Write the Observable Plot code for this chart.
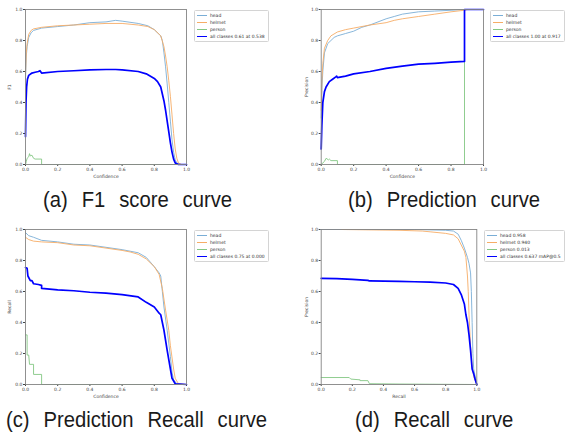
<!DOCTYPE html>
<html><head><meta charset="utf-8">
<script src="https://cdn.jsdelivr.net/npm/d3@7"></script>
<script src="https://cdn.jsdelivr.net/npm/@observablehq/plot@0.6"></script>
<style>
body{margin:0;background:#fff;}
#root{position:relative;width:568px;height:437px;overflow:hidden;background:#fff;}
.panel{position:absolute;}
.legend{position:absolute;border:0.7px solid #d4d4d4;border-radius:1.5px;background:#fff;font:4.5px "DejaVu Sans",sans-serif;color:#333;padding:1px 3px 1px 2px;}
.legend .row{display:flex;align-items:center;height:7px;white-space:nowrap;}
.legend .sw{display:inline-block;width:10px;margin-right:3px;}
.caption{position:absolute;font:22px "Liberation Sans",Arial,sans-serif;word-spacing:9px;color:#1a1a1a;line-height:22px;white-space:nowrap;transform:scaleX(0.92);transform-origin:0 0;}
</style></head>
<body><div id="root"></div>
<script>
// ---------- data ----------
const tickValues = [0, 0.2, 0.4, 0.6, 0.8, 1.0];
const classNames = ["head", "helmet", "person", "all classes"];
const classColors = ["#7aaed6", "#f6ad66", "#83c783", "#0000ff"];

// (a) F1 vs confidence
const f1Head = [[0,0.55],[0.005,0.7],[0.01,0.76],[0.02,0.82],[0.035,0.85],[0.05,0.865],[0.1,0.88],[0.2,0.89],[0.3,0.9],[0.4,0.915],[0.5,0.92],[0.56,0.93],[0.6,0.925],[0.7,0.91],[0.76,0.895],[0.8,0.87],[0.84,0.83],[0.85,0.8],[0.86,0.72],[0.87,0.63],[0.88,0.52],[0.89,0.4],[0.9,0.28],[0.91,0.16],[0.92,0.08],[0.93,0.03],[0.94,0.01],[0.96,0],[1,0]];
const f1Helmet = [[0,0.58],[0.005,0.72],[0.01,0.78],[0.02,0.84],[0.035,0.865],[0.05,0.875],[0.1,0.885],[0.2,0.895],[0.3,0.9],[0.4,0.905],[0.5,0.91],[0.6,0.91],[0.7,0.9],[0.76,0.89],[0.8,0.87],[0.84,0.83],[0.86,0.76],[0.87,0.7],[0.88,0.63],[0.89,0.54],[0.9,0.44],[0.91,0.32],[0.92,0.2],[0.93,0.1],[0.94,0.04],[0.95,0.01],[0.97,0],[1,0]];
const f1Person = [[0,0],[0.005,0.02],[0.01,0.04],[0.02,0.05],[0.025,0.07],[0.03,0.055],[0.04,0.06],[0.05,0.04],[0.06,0.035],[0.1,0.035],[0.1,0],[1,0]];
const f1All = [[0,0.18],[0.003,0.4],[0.007,0.5],[0.012,0.55],[0.02,0.575],[0.04,0.59],[0.06,0.595],[0.08,0.6],[0.09,0.605],[0.1,0.59],[0.2,0.6],[0.3,0.605],[0.4,0.61],[0.5,0.613],[0.56,0.613],[0.6,0.61],[0.7,0.6],[0.75,0.585],[0.8,0.555],[0.82,0.535],[0.84,0.5],[0.86,0.41],[0.87,0.35],[0.88,0.28],[0.89,0.21],[0.9,0.14],[0.91,0.08],[0.92,0.035],[0.93,0.01],[0.95,0],[1,0]];

// (b) precision vs confidence
const pHead = [[0,0.3],[0.005,0.5],[0.01,0.6],[0.02,0.72],[0.04,0.78],[0.06,0.8],[0.08,0.82],[0.1,0.83],[0.15,0.845],[0.2,0.86],[0.25,0.885],[0.3,0.9],[0.35,0.92],[0.4,0.94],[0.45,0.955],[0.5,0.97],[0.6,0.985],[0.7,0.99],[0.8,0.995],[0.88,1.0],[1,1]];
const pHelmet = [[0,0.35],[0.005,0.55],[0.01,0.65],[0.02,0.75],[0.04,0.8],[0.06,0.83],[0.1,0.855],[0.15,0.87],[0.2,0.88],[0.3,0.9],[0.4,0.915],[0.45,0.93],[0.5,0.94],[0.6,0.955],[0.7,0.97],[0.8,0.985],[0.88,0.995],[0.9,1],[1,1]];
const pPerson = [[0,0],[0.02,0.02],[0.03,0.04],[0.045,0.03],[0.05,0.035],[0.06,0.025],[0.1,0.025],[0.1,0],[0.883,0],[0.883,1],[1,1]];
const pAll = [[0,0.1],[0.004,0.25],[0.01,0.4],[0.02,0.47],[0.03,0.5],[0.05,0.535],[0.07,0.55],[0.09,0.565],[0.095,0.57],[0.1,0.56],[0.15,0.57],[0.2,0.585],[0.3,0.6],[0.4,0.62],[0.5,0.635],[0.6,0.648],[0.7,0.653],[0.8,0.66],[0.883,0.665],[0.883,1],[1,1]];

// (c) recall vs confidence
const rHead = [[0,0.98],[0.02,0.96],[0.05,0.95],[0.1,0.93],[0.2,0.92],[0.3,0.905],[0.4,0.9],[0.5,0.885],[0.6,0.87],[0.65,0.86],[0.7,0.85],[0.75,0.82],[0.8,0.76],[0.83,0.72],[0.84,0.7],[0.85,0.6],[0.86,0.5],[0.88,0.35],[0.9,0.18],[0.91,0.08],[0.92,0.03],[0.94,0.005],[1,0]];
const rHelmet = [[0,0.95],[0.02,0.935],[0.05,0.925],[0.1,0.92],[0.2,0.915],[0.3,0.9],[0.4,0.895],[0.5,0.88],[0.6,0.865],[0.65,0.855],[0.7,0.84],[0.75,0.81],[0.8,0.76],[0.83,0.71],[0.85,0.62],[0.87,0.48],[0.89,0.35],[0.9,0.25],[0.92,0.1],[0.93,0.04],[0.95,0.005],[1,0]];
const rPerson = [[0,0.32],[0.01,0.32],[0.01,0.19],[0.02,0.19],[0.025,0.13],[0.05,0.13],[0.05,0.065],[0.1,0.065],[0.1,0],[1,0]];
const rAll = [[0,0.755],[0.01,0.75],[0.015,0.7],[0.03,0.67],[0.04,0.67],[0.05,0.65],[0.08,0.645],[0.1,0.64],[0.1,0.62],[0.2,0.61],[0.3,0.605],[0.4,0.595],[0.5,0.59],[0.6,0.58],[0.7,0.565],[0.75,0.53],[0.8,0.5],[0.83,0.46],[0.84,0.45],[0.86,0.35],[0.88,0.22],[0.9,0.1],[0.91,0.04],[0.93,0.005],[1,0]];

// (d) precision vs recall
const prHead = [[0,1],[0.6,1],[0.8,0.995],[0.85,0.99],[0.88,0.97],[0.9,0.93],[0.92,0.88],[0.94,0.82],[0.95,0.78],[0.96,0.72],[0.965,0.6],[0.97,0.4],[0.975,0.2],[0.98,0.1],[0.99,0.05],[1,0]];
const prHelmet = [[0.13,1],[0.5,0.995],[0.65,0.99],[0.7,0.985],[0.8,0.975],[0.85,0.965],[0.88,0.94],[0.9,0.9],[0.92,0.86],[0.93,0.82],[0.94,0.7],[0.945,0.6],[0.95,0.45],[0.96,0.25],[0.97,0.12],[0.98,0.05],[1,0]];
const prPerson = [[0,0.045],[0.18,0.045],[0.19,0.035],[0.25,0.03],[0.25,0.025],[0.3,0.025],[0.31,0.005],[0.5,0.003],[1,0]];
const prAll = [[0,0.685],[0.1,0.683],[0.2,0.678],[0.3,0.672],[0.31,0.668],[0.5,0.665],[0.6,0.663],[0.7,0.66],[0.8,0.655],[0.85,0.645],[0.88,0.62],[0.9,0.58],[0.92,0.52],[0.93,0.45],[0.94,0.4],[0.95,0.32],[0.96,0.22],[0.97,0.1],[0.98,0.07],[0.99,0.03],[1,0]];

const legendA = ["head", "helmet", "person", "all classes 0.61 at 0.538"];
const legendB = ["head", "helmet", "person", "all classes 1.00 at 0.917"];
const legendC = ["head", "helmet", "person", "all classes 0.75 at 0.000"];
const legendD = ["head 0.958", "helmet 0.940", "person 0.013", "all classes 0.637 mAP@0.5"];
const captions = ["(a) F1 score curve", "(b) Prediction curve", "(c) Prediction Recall curve", "(d) Recall curve"];

// ---------- drawing ----------
const root = document.getElementById("root");

function drawPanel(cfg) {
  const marks = [
    Plot.axisX({ticks: tickValues, tickFormat: ".1f", tickSize: 2, tickPadding: 1, label: cfg.xlabel, labelAnchor: "center", labelArrow: "none", labelOffset: 13.5}),
    Plot.axisY({ticks: tickValues, tickFormat: ".1f", tickSize: 2, tickPadding: 1, label: cfg.ylabel, labelAnchor: "center", labelArrow: "none", labelOffset: cfg.yLabelOffset}),
    ...cfg.series.map((s, i) => Plot.line(s, {x: d => d[0], y: d => d[1], stroke: classColors[i], strokeWidth: i === 3 ? 1.7 : 0.9})),
    Plot.frame({stroke: "#858585", strokeWidth: 0.9})
  ];
  const svg = Plot.plot({
    width: 284, height: 180,
    marginLeft: cfg.ml, marginRight: cfg.mr, marginTop: 9, marginBottom: 16,
    x: {domain: [0, 1]}, y: {domain: [0, 1]},
    style: {fontSize: "4.5px", fontFamily: "DejaVu Sans, sans-serif", color: "#444", background: "transparent", overflow: "visible"},
    marks
  });
  const wrap = document.createElement("div");
  wrap.className = "panel";
  wrap.style.left = cfg.left + "px";
  wrap.style.top = cfg.top + "px";
  wrap.appendChild(svg);
  root.appendChild(wrap);

  const lg = document.createElement("div");
  lg.className = "legend";
  lg.style.left = cfg.legLeft + "px";
  lg.style.top = cfg.legTop + "px";
  cfg.legend.forEach((t, i) => {
    const r = document.createElement("div");
    r.className = "row";
    const sw = document.createElement("span");
    sw.className = "sw";
    sw.style.borderTop = (i === 3 ? 1.7 : 0.9) + "px solid " + classColors[i];
    r.appendChild(sw);
    r.appendChild(document.createTextNode(t));
    lg.appendChild(r);
  });
  root.appendChild(lg);

  const cap = document.createElement("div");
  cap.className = "caption";
  cap.style.left = cfg.capLeft + "px";
  cap.style.top = cfg.capTop + "px";
  cap.textContent = cfg.caption;
  root.appendChild(cap);
}

drawPanel({series: [f1Head, f1Helmet, f1Person, f1All], xlabel: "Confidence", ylabel: "F1", left: 0, top: 0, ml: 25, mr: 98, yLabelOffset: 17.5, legend: legendA, legLeft: 194, legTop: 10, caption: captions[0], capLeft: 43, capTop: 189});
drawPanel({series: [pHead, pHelmet, pPerson, pAll], xlabel: "Confidence", ylabel: "Precision", left: 284, top: 0, ml: 36.7, mr: 85, yLabelOffset: 16, legend: legendB, legLeft: 490, legTop: 10, caption: captions[1], capLeft: 348, capTop: 189});
drawPanel({series: [rHead, rHelmet, rPerson, rAll], xlabel: "Confidence", ylabel: "Recall", left: 0, top: 220, ml: 25, mr: 98, yLabelOffset: 17.5, legend: legendC, legLeft: 194, legTop: 230, caption: captions[2], capLeft: 6, capTop: 409});
drawPanel({series: [prHead, prHelmet, prPerson, prAll], xlabel: "Recall", ylabel: "Precision", left: 284, top: 220, ml: 36.7, mr: 91.7, yLabelOffset: 16, legend: legendD, legLeft: 484, legTop: 230, caption: captions[3], capLeft: 355, capTop: 409});
</script>
</body></html>
